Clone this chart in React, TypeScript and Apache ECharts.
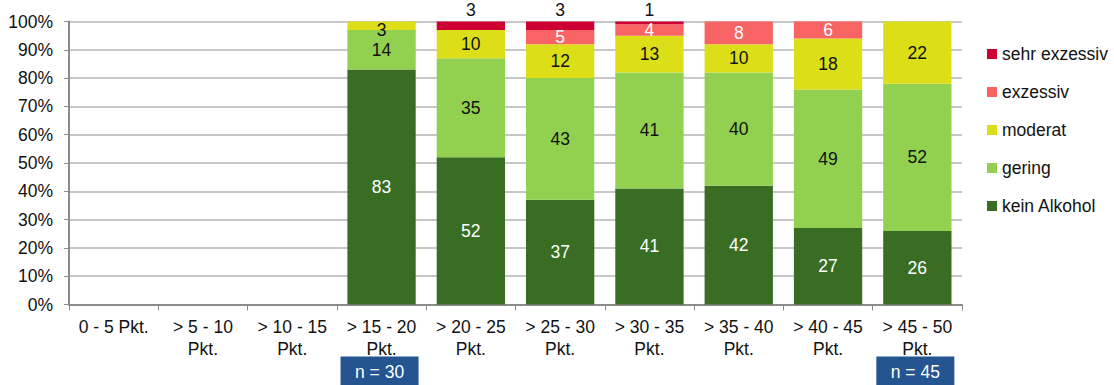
import React, { useEffect, useRef } from "react";
import * as echarts from "echarts";

const categories = [
  "0 - 5 Pkt.",
  "> 5 - 10 Pkt.",
  "> 10 - 15 Pkt.",
  "> 15 - 20 Pkt.",
  "> 20 - 25 Pkt.",
  "> 25 - 30 Pkt.",
  "> 30 - 35 Pkt.",
  "> 35 - 40 Pkt.",
  "> 40 - 45 Pkt.",
  "> 45 - 50 Pkt.",
];

const keinAlkohol = [null, null, null, 83, 52, 37, 41, 42, 27, 26];
const gering = [null, null, null, 14, 35, 43, 41, 40, 49, 52];
const moderat = [null, null, null, 3, 10, 12, 13, 10, 18, 22];
const exzessiv = [null, null, null, null, null, 5, 4, 8, 6, null];
const sehrExzessiv = [null, null, null, null, 3, 3, 1, null, null, null];

const yTicks = [0, 10, 20, 30, 40, 50, 60, 70, 80, 90, 100];

const sampleNotes = [
  { category: "> 15 - 20 Pkt.", text: "n = 30" },
  { category: "> 45 - 50 Pkt.", text: "n = 45" },
];

const FONT = "'Liberation Sans', Arial, sans-serif";
const FS = 17.5;

export default function App() {
  const ref = useRef<HTMLDivElement>(null);

  useEffect(() => {
    if (!ref.current) return;
    document.body.style.margin = "0";
    document.body.style.overflow = "hidden";
    const chart = echarts.init(ref.current, undefined, { renderer: "svg" });

    const stackTop = (idx: number, upto: (number | null)[][]) =>
      upto.reduce((s, arr) => s + (arr[idx] ?? 0), 0);

    const mkSeries = (
      name: string,
      data: (number | null)[],
      below: (number | null)[][],
      color: string,
      labelColor: string,
      pos: string = "inside"
    ) => ({
      name,
      type: "bar",
      stack: "total",
      data: data.map((v, i) => {
        if (v == null) return null;
        const top = stackTop(i, below) + v;
        if (pos === "inside" && top >= 100 && v < 4) {
          return { value: v, label: { offset: [0, 4] } };
        }
        return v;
      }),
      barCategoryGap: "23.5%",
      itemStyle: { color },
      label: {
        show: true,
        position: pos,
        distance: 3,
        color: labelColor,
        fontFamily: FONT,
        fontSize: FS,
        formatter: (p: any) => (p.value == null ? "" : String(p.value)),
      },
    });

    chart.setOption({
      animation: false,
      textStyle: { fontFamily: FONT },
      grid: { left: 69, right: 152, top: 21.5, bottom: 80.5, containLabel: false },
      legend: {
        orient: "vertical",
        left: 987,
        top: 45,
        padding: 0,
        itemWidth: 10,
        itemHeight: 10,
        itemGap: 20,
        icon: "rect",
        textStyle: { fontFamily: FONT, fontSize: FS, color: "#111" },
        data: ["sehr exzessiv", "exzessiv", "moderat", "gering", "kein Alkohol"],
      },
      xAxis: {
        type: "category",
        data: categories,
        axisLine: { lineStyle: { color: "#8c8c8c", width: 2 } },
        axisTick: { show: true, length: 6, lineStyle: { color: "#8c8c8c" } },
        axisLabel: {
          color: "#111",
          fontFamily: FONT,
          fontSize: FS,
          lineHeight: 21.5,
          margin: 12,
          interval: 0,
          formatter: (v: string) => (v.length > 11 ? v.replace(/ Pkt\.$/, "\nPkt.") : v),
        },
      },
      yAxis: {
        type: "value",
        min: yTicks[0],
        max: yTicks[yTicks.length - 1],
        interval: 10,
        axisLine: { show: true, lineStyle: { color: "#8c8c8c", width: 2 } },
        axisTick: { show: true, length: 5, lineStyle: { color: "#8c8c8c" } },
        splitLine: { lineStyle: { color: "#b4b4b4", width: 1.5 } },
        axisLabel: {
          color: "#111",
          fontFamily: FONT,
          fontSize: FS,
          margin: 16,
          formatter: "{value}%",
        },
      },
      series: [
        mkSeries("kein Alkohol", keinAlkohol, [], "#386d23", "#ffffff"),
        mkSeries("gering", gering, [keinAlkohol], "#92d050", "#111111"),
        mkSeries("moderat", moderat, [keinAlkohol, gering], "#dcdf18", "#111111"),
        mkSeries("exzessiv", exzessiv, [keinAlkohol, gering, moderat], "#f86464", "#ffffff"),
        mkSeries(
          "sehr exzessiv",
          sehrExzessiv,
          [keinAlkohol, gering, moderat, exzessiv],
          "#cc0033",
          "#111111",
          "top"
        ),
      ],
    });

    const boxW = 78;
    const boxH = 29;
    const graphics = sampleNotes.map((n) => {
      const cx = chart.convertToPixel({ xAxisIndex: 0 }, n.category) as number;
      return {
        type: "group",
        children: [
          {
            type: "rect",
            shape: { x: cx - boxW / 2 - 2, y: 356.5, width: boxW, height: boxH },
            style: { fill: "#245591" },
          },
          {
            type: "text",
            style: {
              x: cx - 2,
              y: 372,
              text: n.text,
              fill: "#ffffff",
              font: `${FS}px ${FONT}`,
              align: "center",
              verticalAlign: "middle",
            },
          },
        ],
      };
    });
    chart.setOption({ graphic: graphics });

    return () => chart.dispose();
  }, []);

  return <div ref={ref} style={{ width: 1114, height: 385 }} />;
}
